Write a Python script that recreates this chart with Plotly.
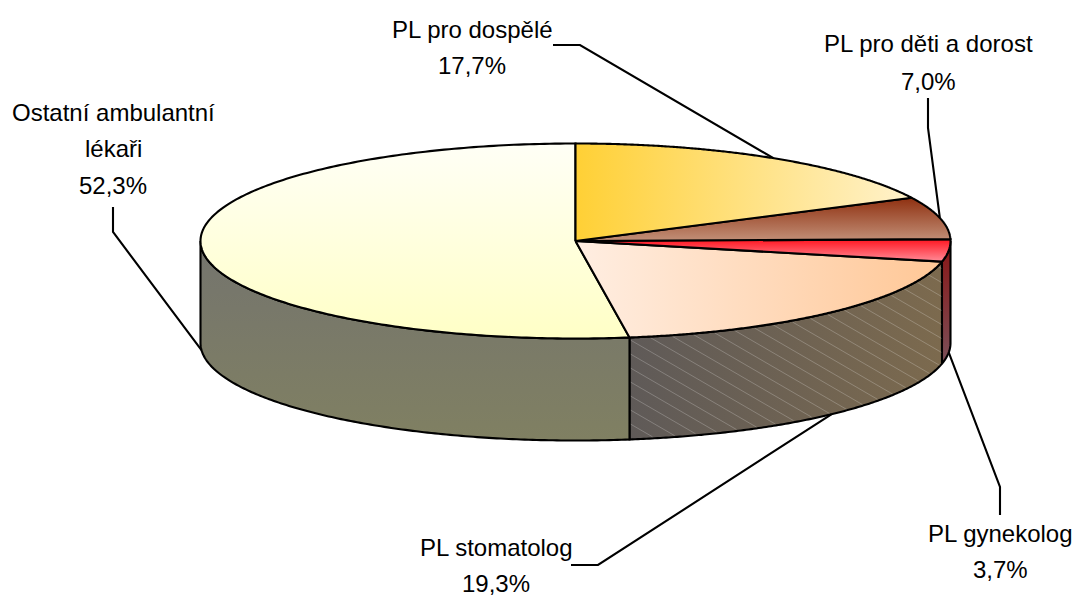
import numpy as np
import plotly.graph_objects as go

categories = ["PL pro dospělé", "PL pro děti a dorost", "PL gynekolog", "PL stomatolog", "Ostatní ambulantní lékaři"]
shares = [17.7, 7.0, 3.7, 19.3, 52.3]
label_lines = [["PL pro dospělé"], ["PL pro děti a dorost"], ["PL gynekolog"], ["PL stomatolog"], ["Ostatní ambulantní", "lékaři"]]

CX, CY, RX, RY, DEPTH = 575.5, 241, 375, 97.5, 102
LW = 2.1
FONT = "Liberation Sans"
FS = 24

top_grad = [
    ("horizontal", "#FFD035", "#FFF2CC"),
    ("vertical", "#C29078", "#8F3010"),
    ("vertical", "#FF8C98", "#FF1520"),
    ("horizontal", "#FFEEE2", "#FFC796"),
    ("vertical", "#FFFFC6", "#FFFFF6"),
]
wall_grad = [
    None,
    None,
    ("vertical", "#7A5058", "#8A1414"),
    ("horizontal", "#5F5A58", "#7C6A4E"),
    ("vertical", "#808062", "#74746E"),
]

# label centres and leader elbows (layout, px)
label_pos = [(472, [29, 65]), (928, [43, 81]), (1000, [533, 569]), (496, [547, 583]), (113, [112, 148, 185])]
leader_paths = [
    [(553, 45), (580, 45)],
    [(928, 98), (928, 128)],
    [(1000, 515), (1000, 487)],
    [(571, 565), (598, 565)],
    [(113, 207), (113, 232)],
]


def rim(deg, drop=0.0):
    a = np.radians(deg)
    return CX + RX * np.sin(a), CY - RY * np.cos(a) + drop


def gradient(g):
    kind, c0, c1 = g
    return dict(type=kind, colorscale=[[0, c0], [1, c1]])


fig = go.Figure()
cum = np.concatenate([[0], np.cumsum(shares)]) * 3.6
cum[-1] = 360


def poly(xs, ys, g):
    fig.add_trace(go.Scatter(x=xs, y=ys, mode="lines", fill="toself", fillgradient=gradient(g),
                             line=dict(color="black", width=LW, simplify=False), hoverinfo="skip", showlegend=False))


# walls
for i, g in enumerate(wall_grad):
    if g is None:
        continue
    a0, a1 = max(cum[i], 90), min(cum[i + 1], 270)
    t = np.linspace(a0, a1, 160)
    xa, ya = rim(t)
    xb, yb = rim(t[::-1], DEPTH)
    poly(np.r_[xa, xb, xa[0]], np.r_[ya, yb, ya[0]], g)
    if i == 3:
        hx, hy = [], []
        xs = np.arange(xa[-1] + 1, xa[0], 1.0)
        order = np.argsort(xa)
        top = np.interp(xs, xa[order], ya[order])
        for c in np.arange(-600, 300, 14.0):
            y = 0.58 * (xs - xa[-1]) + ya[-1] + c
            ok = (y > top + 1) & (y < top + DEPTH - 1)
            if ok.any():
                hx += list(xs[ok]) + [None]
                hy += list(y[ok]) + [None]
        fig.add_trace(go.Scatter(x=hx, y=hy, mode="lines", line=dict(color="rgba(255,255,255,0.32)", width=0.7),
                                 hoverinfo="skip", showlegend=False))

# leader lines
for i, path in enumerate(leader_paths):
    mid = (cum[i] + cum[i + 1]) / 2
    ax, ay = rim(mid, DEPTH if 90 < mid < 270 else 0)
    pts = path + [(ax, ay)]
    fig.add_trace(go.Scatter(x=[p[0] for p in pts], y=[p[1] for p in pts], mode="lines",
                             line=dict(color="black", width=LW), hoverinfo="skip", showlegend=False))

# top slices
for i, g in reversed(list(enumerate(top_grad))):
    t = np.linspace(cum[i], cum[i + 1], 240)
    xa, ya = rim(t)
    poly(np.r_[CX, xa, CX], np.r_[CY, ya, CY], g)

annotations = []
for i, (cx, ys) in enumerate(label_pos):
    lines = label_lines[i] + [f"{shares[i]:.1f}".replace(".", ",") + "%"]
    for txt, y in zip(lines, ys):
        annotations.append(dict(x=cx, y=y, xref="x", yref="y", text=txt, showarrow=False,
                                xanchor="center", yanchor="middle",
                                font=dict(family=FONT, size=FS, color="black")))

fig.update_layout(
    width=1075, height=596, margin=dict(l=0, r=0, t=0, b=0),
    paper_bgcolor="white", plot_bgcolor="white", showlegend=False,
    xaxis=dict(range=[0, 1075], visible=False, fixedrange=True),
    yaxis=dict(range=[596, 0], visible=False, fixedrange=True),
    annotations=annotations,
)
fig.write_html("out.html", post_script="document.body.style.margin='0';", config={"displayModeBar": False})
